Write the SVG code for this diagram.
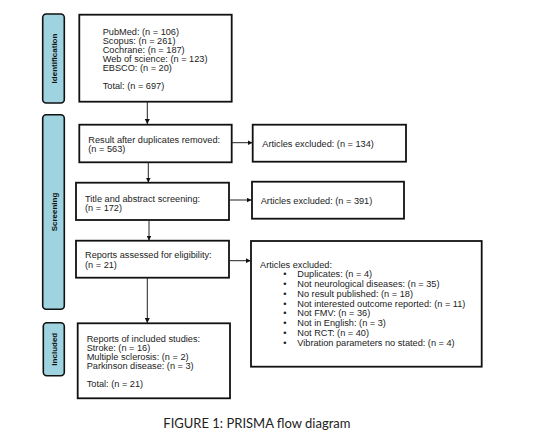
<svg xmlns="http://www.w3.org/2000/svg" width="533" height="446" viewBox="0 0 533 446">
<style>
.box{fill:#fff;stroke:#111;stroke-width:1.8}
.tab{fill:#9fd3e0;stroke:#111;stroke-width:1.6}
.t{font-family:"Liberation Sans",Arial,sans-serif;font-size:9.2px;fill:#222}
.tl{font-family:"Liberation Sans",Arial,sans-serif;font-size:8px;font-weight:bold;fill:#111;text-anchor:middle}
.c{stroke:#222;stroke-width:1;fill:none}
.cap{font-family:"Lato","Open Sans",sans-serif;font-size:13px;fill:#222}
</style>
<defs>
<marker id="ah" viewBox="0 0 10 10" refX="10" refY="5" markerWidth="5" markerHeight="5" orient="auto" markerUnits="userSpaceOnUse">
<path d="M0,0 L10,5 L0,10 z" fill="#111"/>
</marker>
</defs>
<rect width="533" height="446" fill="#fff"/>
<g id="tab-identification">
<rect class="tab" x="42.7" y="14" width="21.6" height="89" rx="3.5"/>
<text class="tl" transform="translate(56.5,58.5) rotate(-90)">Identification</text>
</g>
<g id="tab-screening">
<rect class="tab" x="42.7" y="114.7" width="21.6" height="194.6" rx="3.5"/>
<text class="tl" transform="translate(56.5,212) rotate(-90)">Screening</text>
</g>
<g id="tab-included">
<rect class="tab" x="43.3" y="322.7" width="21" height="53" rx="3.5"/>
<text class="tl" transform="translate(56.8,349.2) rotate(-90)">Included</text>
</g>
<g id="identification">
<rect class="box" x="79.3" y="14.7" width="152.4" height="87"/>
<text class="t" x="102.7" y="34.5">PubMed: (n = 106)</text>
<text class="t" x="102.7" y="43.5">Scopus: (n = 261)</text>
<text class="t" x="102.7" y="52.5">Cochrane: (n = 187)</text>
<text class="t" x="102.7" y="61.5">Web of science: (n = 123)</text>
<text class="t" x="102.7" y="70.5">EBSCO: (n = 20)</text>
<text class="t" x="102.7" y="89">Total: (n = 697)</text>
</g>
<g id="duplicates">
<rect class="box" x="79.3" y="124.7" width="152.4" height="37.6"/>
<text class="t" x="88.3" y="142.5">Result after duplicates removed:</text>
<text class="t" x="88.3" y="151.5">(n = 563)</text>
</g>
<g id="excluded1">
<rect class="box" x="252.7" y="124.7" width="153.3" height="37"/>
<text class="t" x="262.3" y="146.5">Articles excluded: (n = 134)</text>
</g>
<g id="screening">
<rect class="box" x="76" y="182.7" width="153" height="37.3"/>
<text class="t" x="85" y="201.5">Title and abstract screening:</text>
<text class="t" x="85" y="210.5">(n = 172)</text>
</g>
<g id="excluded2">
<rect class="box" x="252" y="181.7" width="152" height="37"/>
<text class="t" x="260.7" y="204">Articles excluded: (n = 391)</text>
</g>
<g id="eligibility">
<rect class="box" x="76" y="240.7" width="153" height="37"/>
<text class="t" x="85" y="258">Reports assessed for eligibility:</text>
<text class="t" x="85" y="267.5">(n = 21)</text>
</g>
<g id="excluded3">
<rect class="box" x="251" y="241" width="230.7" height="125.7"/>
<text class="t" x="260" y="268">Articles excluded:</text>
<g class="t">
<text x="283.3" y="277.3">•</text><text x="297.3" y="277.3">Duplicates: (n = 4)</text>
<text x="283.3" y="287.3">•</text><text x="297.3" y="287.3">Not neurological diseases: (n = 35)</text>
<text x="283.3" y="297">•</text><text x="297.3" y="297">No result published: (n = 18)</text>
<text x="283.3" y="306.7">•</text><text x="297.3" y="306.7">Not interested outcome reported: (n = 11)</text>
<text x="283.3" y="316.3">•</text><text x="297.3" y="316.3">Not FMV: (n = 36)</text>
<text x="283.3" y="326">•</text><text x="297.3" y="326">Not in English: (n = 3)</text>
<text x="283.3" y="336">•</text><text x="297.3" y="336">Not RCT: (n = 40)</text>
<text x="283.3" y="346">•</text><text x="297.3" y="346">Vibration parameters no stated: (n = 4)</text>
</g>
</g>
<g id="included">
<rect class="box" x="77.7" y="323.3" width="152.3" height="75"/>
<text class="t" x="86.7" y="341.5">Reports of included studies:</text>
<text class="t" x="86.7" y="350.5">Stroke: (n = 16)</text>
<text class="t" x="86.7" y="359.5">Multiple sclerosis: (n = 2)</text>
<text class="t" x="86.7" y="369">Parkinson disease: (n = 3)</text>
<text class="t" x="86.7" y="387">Total: (n = 21)</text>
</g>
<g id="connectors">
<line class="c" x1="147.3" y1="101.7" x2="147.3" y2="124" marker-end="url(#ah)"/>
<line class="c" x1="231.7" y1="142.7" x2="252.5" y2="142.7" marker-end="url(#ah)"/>
<line class="c" x1="148.3" y1="162.3" x2="148.3" y2="182.5" marker-end="url(#ah)"/>
<line class="c" x1="229" y1="200" x2="251.5" y2="200" marker-end="url(#ah)"/>
<line class="c" x1="149" y1="220" x2="149" y2="240.5" marker-end="url(#ah)"/>
<line class="c" x1="229" y1="260.7" x2="250.7" y2="260.7" marker-end="url(#ah)"/>
<line class="c" x1="147.3" y1="277.7" x2="147.3" y2="323" marker-end="url(#ah)"/>
</g>
<text class="cap" x="163.3" y="428">FIGURE 1: PRISMA flow diagram</text>
</svg>
